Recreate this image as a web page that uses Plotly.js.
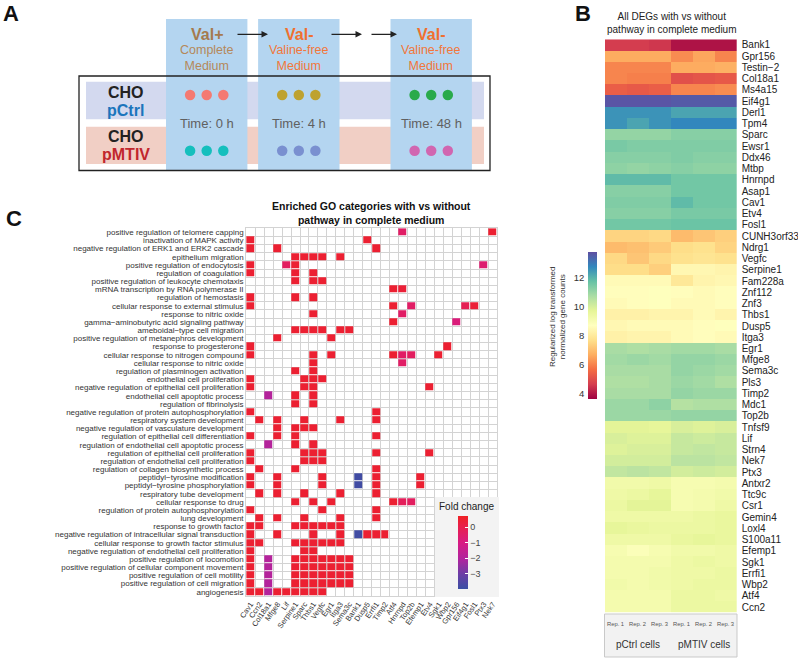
<!DOCTYPE html>
<html>
<head>
<meta charset="utf-8">
<script src="https://cdn.plot.ly/plotly-3.0.1.min.js"></script>
<style>html,body{margin:0;padding:0;background:#fff;}#chart{width:798px;height:658px;}</style>
</head>
<body>
<div id="chart"></div>
<script>
// ---------------- Panel A (experimental design) ----------------
const mediumShort = ['Val+', 'Val-', 'Val-'];
const mediumLines = ['Complete<br>Medium', 'Valine-free<br>Medium', 'Valine-free<br>Medium'];
const timeLabels = ['Time: 0 h', 'Time: 4 h', 'Time: 48 h'];
const cellLineNames = ['pCtrl', 'pMTIV'];
const pCtrlDotColors = ['#f47a72', '#bea22f', '#2aaa4b'];
const pMTIVDotColors = ['#15bfbd', '#7a90d0', '#d166b0'];
const replicateIds = ['Rep. 1', 'Rep. 2', 'Rep. 3'];

// ---------------- Panel B (DEG heatmap) ----------------
const degGenes = ['Bank1','Gpr156','Testin\u22122','Col18a1','Ms4a15','Eif4g1','Derl1','Tpm4','Sparc','Ewsr1','Ddx46','Mtbp','Hnrnpd','Asap1','Cav1','Etv4','Fosl1','CUNH3orf33','Ndrg1','Vegfc','Serpine1','Fam228a','Znf112','Znf3','Thbs1','Dusp5','Itga3','Egr1','Mfge8','Sema3c','Pls3','Timp2','Mdc1','Top2b','Tnfsf9','Lif','Strn4','Nek7','Ptx3','Antxr2','Ttc9c','Csr1','Gemin4','Loxl4','S100a11','Efemp1','Sgk1','Errfi1','Wbp2','Atf4','Ccn2'];
const sampleIds = ['pCtrl Rep. 1','pCtrl Rep. 2','pCtrl Rep. 3','pMTIV Rep. 1','pMTIV Rep. 2','pMTIV Rep. 3'];
const cellGroups = ['pCtrl cells', 'pMTIV cells'];
const pCtrlRep1 = [4.7,6.7,6.1,6.1,5.4,13.7,12.6,12.6,11.1,11.5,11.3,11.2,11.9,11.3,11.4,11.3,11.6,7.5,7.0,7.6,7.7,8.6,8.7,8.6,8.3,8.5,8.3,10.8,10.9,10.8,10.7,10.8,11.0,11.0,9.8,10.0,9.9,10.1,10.4,9.3,9.4,9.5,9.4,9.7,9.4,9.1,9.2,9.2,9.3,9.2,9.2];
const pCtrlRep2 = [4.7,6.7,6.1,6.0,5.3,13.7,12.6,12.3,11.1,11.4,11.3,11.1,11.9,11.3,11.4,11.3,11.6,7.5,7.1,7.2,7.7,8.6,8.7,8.7,8.3,8.6,8.4,10.7,11.0,10.8,10.7,10.8,11.0,11.0,9.8,9.9,10.0,10.1,10.5,9.3,9.5,9.8,9.4,9.6,9.4,8.9,9.2,9.2,9.2,9.2,9.2];
const pCtrlRep3 = [4.6,6.7,6.1,6.0,5.4,13.7,12.6,12.6,11.1,11.4,11.3,11.2,11.9,11.3,11.4,11.3,11.6,7.6,7.3,7.6,7.4,8.6,8.8,8.8,8.4,8.6,8.4,10.8,10.9,10.8,10.8,10.8,11.2,11.0,9.7,9.9,10.0,10.1,10.4,9.4,9.7,9.8,9.4,9.5,9.4,9.1,9.2,9.3,9.3,9.2,9.2];
const pMTIVRep1 = [4.0,6.2,6.7,5.1,6.1,13.6,12.3,12.8,11.3,11.4,11.4,11.3,11.6,11.6,11.9,11.5,11.7,7.0,7.7,7.8,8.5,8.0,8.7,8.6,8.4,8.6,8.6,10.9,11.1,11.1,11.0,11.1,10.6,11.1,10.0,10.3,10.3,10.5,10.1,9.1,9.1,9.1,9.4,9.5,9.6,9.3,9.4,9.4,9.4,9.5,9.5];
const pMTIVRep2 = [4.0,6.6,6.7,5.2,6.1,13.6,12.3,12.8,11.3,11.4,11.3,11.2,11.6,11.6,11.6,11.5,11.7,7.2,7.8,7.9,8.5,8.4,8.6,8.6,8.6,8.7,8.7,10.9,11.1,11.0,10.9,11.0,10.7,11.1,9.9,10.2,10.4,10.5,10.2,9.1,9.2,9.2,9.5,9.5,9.7,9.3,9.5,9.4,9.5,9.5,9.5];
const pMTIVRep3 = [4.0,6.1,6.8,5.3,6.2,13.6,12.3,12.8,11.3,11.4,11.3,11.2,11.6,11.6,11.6,11.5,11.7,7.4,7.5,7.8,8.4,8.5,8.7,8.7,8.4,8.8,8.6,10.8,11.0,10.9,10.7,11.0,10.7,11.1,10.0,10.3,10.3,10.4,10.1,9.2,9.3,9.4,9.6,9.6,9.6,9.4,9.4,9.5,9.5,9.4,9.5];
const countTicks = [4, 6, 8, 10, 12];

// ---------------- Panel C (GO enrichment) ----------------
const goTerms = ['positive regulation of telomere capping','inactivation of MAPK activity','negative regulation of ERK1 and ERK2 cascade','epithelium migration','positive regulation of endocytosis','regulation of coagulation','positive regulation of leukocyte chemotaxis','mRNA transcription by RNA polymerase II','regulation of hemostasis','cellular response to external stimulus','response to nitric oxide','gamma\u2212aminobutyric acid signaling pathway','ameboidal\u2212type cell migration','positive regulation of metanephros development','response to progesterone','cellular response to nitrogen compound','cellular response to nitric oxide','regulation of plasminogen activation','endothelial cell proliferation','negative regulation of epithelial cell proliferation','endothelial cell apoptotic process','regulation of fibrinolysis','negative regulation of protein autophosphorylation','respiratory system development','negative regulation of vasculature development','regulation of epithelial cell differentiation','regulation of endothelial cell apoptotic process','regulation of epithelial cell proliferation','regulation of endothelial cell proliferation','regulation of collagen biosynthetic process','peptidyl\u2212tyrosine modification','peptidyl\u2212tyrosine phosphorylation','respiratory tube development','cellular response to drug','regulation of protein autophosphorylation','lung development','response to growth factor','negative regulation of intracellular signal transduction','cellular response to growth factor stimulus','negative regulation of endothelial cell proliferation','positive regulation of locomotion','positive regulation of cellular component movement','positive regulation of cell motility','positive regulation of cell migration','angiogenesis'];
const goGenes = ['Cav1','Ccn2','Col18a1','Mfge8','Lif','Serpine1','Sparc','Thbs1','Vegfc','Egr1','Itga3','Sema3c','Bank1','Dusp5','Errfi1','Timp2','Atf4','Hnrnpd','Top2b','Efemp1','Etv4','Sgk1','Wbp2','Gpr156','Eif4g1','Fosl1','Ptx3','Nek7'];
// [gene, fold change] for every enriched gene of each GO term (same order as goTerms)
const goHits = [
  [['Hnrnpd',-0.4],['Nek7',0.5]],
  [['Cav1',0.5],['Dusp5',0.5]],
  [['Cav1',0.5],['Mfge8',0.5],['Errfi1',0.5]],
  [['Serpine1',0.5],['Sparc',0.5],['Thbs1',0.5],['Vegfc',0.5],['Itga3',0.5]],
  [['Cav1',0.5],['Lif',-0.3],['Serpine1',0.5],['Ptx3',-0.6]],
  [['Cav1',0.5],['Serpine1',0.5],['Thbs1',0.5]],
  [['Serpine1',0.5],['Thbs1',0.5],['Vegfc',0.5]],
  [['Atf4',0.5],['Hnrnpd',0.4]],
  [['Cav1',0.5],['Serpine1',0.5],['Thbs1',0.5]],
  [['Cav1',0.5],['Atf4',0.5],['Top2b',-0.4],['Eif4g1',-0.1],['Fosl1',0.4]],
  [['Thbs1',0.5],['Hnrnpd',-0.4]],
  [['Atf4',0.5],['Gpr156',-0.8]],
  [['Serpine1',0.5],['Sparc',0.5],['Thbs1',0.5],['Vegfc',0.5],['Itga3',0.5],['Sema3c',0.5]],
  [['Mfge8',0.5],['Egr1',0.5]],
  [['Cav1',0.5],['Wbp2',0.5]],
  [['Cav1',0.5],['Thbs1',0.5],['Egr1',0.5],['Atf4',0.5],['Hnrnpd',-0.4],['Top2b',-0.3],['Sgk1',0.5]],
  [['Thbs1',0.5],['Hnrnpd',-0.4]],
  [['Serpine1',0.5],['Thbs1',0.5]],
  [['Cav1',0.5],['Sparc',0.5],['Thbs1',0.5],['Vegfc',0.5]],
  [['Cav1',0.5],['Sparc',0.5],['Thbs1',0.5],['Etv4',0.5]],
  [['Col18a1',-1.9],['Serpine1',0.5],['Thbs1',0.5]],
  [['Serpine1',0.5],['Thbs1',0.5]],
  [['Cav1',0.5],['Errfi1',0.5]],
  [['Ccn2',0.5],['Mfge8',0.5],['Sparc',0.5],['Itga3',0.5],['Errfi1',0.5]],
  [['Mfge8',0.5],['Serpine1',0.5],['Sparc',0.5],['Thbs1',0.5]],
  [['Cav1',0.5],['Mfge8',0.5],['Serpine1',0.5],['Errfi1',0.5]],
  [['Col18a1',-1.9],['Serpine1',0.5],['Thbs1',0.5]],
  [['Cav1',0.5],['Sparc',0.5],['Thbs1',0.5],['Vegfc',0.5],['Errfi1',0.5],['Etv4',0.5]],
  [['Cav1',0.5],['Sparc',0.5],['Thbs1',0.5],['Vegfc',0.5]],
  [['Ccn2',0.5],['Serpine1',0.5],['Errfi1',0.5]],
  [['Cav1',0.5],['Mfge8',0.5],['Vegfc',0.5],['Bank1',-3.8],['Errfi1',0.5],['Efemp1',0.5]],
  [['Cav1',0.5],['Mfge8',0.5],['Vegfc',0.5],['Bank1',-3.8],['Errfi1',0.5],['Efemp1',0.5]],
  [['Ccn2',0.5],['Mfge8',0.5],['Sparc',0.5],['Itga3',0.5],['Errfi1',0.5]],
  [['Serpine1',0.5],['Thbs1',0.5],['Egr1',0.5],['Atf4',0.5],['Hnrnpd',-0.2],['Top2b',-0.3]],
  [['Cav1',0.5],['Vegfc',0.5],['Errfi1',0.5]],
  [['Ccn2',0.5],['Mfge8',0.5],['Sparc',0.5],['Itga3',0.5],['Errfi1',0.5]],
  [['Cav1',0.5],['Ccn2',0.5],['Serpine1',0.5],['Sparc',0.5],['Thbs1',0.5],['Vegfc',0.5],['Egr1',0.5],['Itga3',0.5]],
  [['Cav1',0.5],['Mfge8',0.5],['Thbs1',0.5],['Itga3',0.5],['Bank1',-3.8],['Dusp5',0.5],['Errfi1',0.5],['Timp2',0.5]],
  [['Cav1',0.5],['Ccn2',0.5],['Serpine1',0.5],['Sparc',0.5],['Thbs1',0.5],['Vegfc',0.5],['Egr1',0.5],['Itga3',0.5]],
  [['Cav1',0.5],['Sparc',0.5],['Thbs1',0.5]],
  [['Cav1',0.5],['Col18a1',-1.9],['Serpine1',0.5],['Sparc',0.5],['Thbs1',0.5],['Vegfc',0.5],['Egr1',0.5],['Itga3',0.5],['Sema3c',0.5]],
  [['Cav1',0.5],['Col18a1',-1.9],['Serpine1',0.5],['Sparc',0.5],['Thbs1',0.5],['Vegfc',0.5],['Egr1',0.5],['Itga3',0.5],['Sema3c',0.5]],
  [['Cav1',0.5],['Col18a1',-1.9],['Serpine1',0.5],['Sparc',0.5],['Thbs1',0.5],['Vegfc',0.5],['Egr1',0.5],['Itga3',0.5],['Sema3c',0.5]],
  [['Cav1',0.5],['Col18a1',-1.9],['Serpine1',0.5],['Sparc',0.5],['Thbs1',0.5],['Vegfc',0.5],['Egr1',0.5],['Itga3',0.5],['Sema3c',0.5]],
  [['Cav1',0.5],['Ccn2',0.5],['Col18a1',-1.9],['Mfge8',0.5],['Lif',0.5],['Serpine1',0.5],['Sparc',0.5],['Thbs1',0.5],['Vegfc',0.5]]
];
const foldTicks = [0, -1, -2, -3];

// ---------------- helpers / layout constants ----------------
const W = 798, H = 658;
const FONT = 'Liberation Sans, Arial, Helvetica, sans-serif';
const fx = p => p / W;
const fy = p => 1 - p / H;

const colCenters = [206.7, 298.8, 431.2];
const colHalf = 40.7;
const rowDotY = [95, 150.7];
const dotStep = 16.6;

// ---------------- traces ----------------
const spectral = [[0,'#9e0142'],[0.1,'#d53e4f'],[0.2,'#f46d43'],[0.3,'#fdae61'],[0.4,'#fee08b'],[0.5,'#ffffbf'],[0.6,'#e6f598'],[0.7,'#abdda4'],[0.8,'#66c2a5'],[0.9,'#3288bd'],[1,'#5e4fa2']];
const foldScale = [[0,'#3a4fa3'],[0.2,'#6a3ea6'],[0.41,'#b0249e'],[0.63,'#d71b84'],[0.84,'#e71f4f'],[1,'#ef2124']];

const degZ = degGenes.map((g, i) => [pCtrlRep1[i], pCtrlRep2[i], pCtrlRep3[i], pMTIVRep1[i], pMTIVRep2[i], pMTIVRep3[i]]);
const goZ = goTerms.map((t, i) => goGenes.map(g => {
  const h = goHits[i].find(p => p[0] === g);
  return h ? h[1] : null;
}));

const traces = [];
// Panel C heatmap
traces.push({
  type: 'heatmap', x: goGenes, y: goTerms, z: goZ, xaxis: 'x', yaxis: 'y',
  xgap: 1, ygap: 1, zmin: -3.94, zmax: 0.75, colorscale: foldScale,
  hoverongaps: false,
  colorbar: {
    x: fx(457.7), xanchor: 'left', xpad: 0, y: fy(552), yanchor: 'middle', ypad: 0,
    len: 72.6, lenmode: 'pixels', thickness: 10, outlinewidth: 0,
    tickvals: foldTicks, ticks: 'inside', ticklen: 3, tickcolor: '#ffffff',
    tickfont: {size: 9, color: '#444', family: FONT}
  }
});
// Panel B heatmap
traces.push({
  type: 'heatmap', x: sampleIds, y: degGenes, z: degZ, xaxis: 'x2', yaxis: 'y2',
  zmin: 3.7, zmax: 13.8, colorscale: spectral,
  colorbar: {
    x: fx(588.3), xanchor: 'left', xpad: 0, y: fy(325), yanchor: 'middle', ypad: 0,
    len: 146.6, lenmode: 'pixels', thickness: 9.4, outlinewidth: 0,
    showticklabels: false, ticks: ''
  }
});
// Panel A replicate dots
const dotX = [], dotY = [], dotC = [];
[pCtrlDotColors, pMTIVDotColors].forEach((cols, r) => {
  cols.forEach((c, k) => {
    replicateIds.forEach((rep, j) => {
      dotX.push(colCenters[k] + (j - 1) * dotStep);
      dotY.push(rowDotY[r]);
      dotC.push(c);
    });
  });
});
traces.push({
  type: 'scatter', mode: 'markers', x: dotX, y: dotY, xaxis: 'x3', yaxis: 'y3',
  marker: {size: 10.5, color: dotC, line: {width: 0}}, hoverinfo: 'skip'
});
// axis carrier for panel B colorbar labels
traces.push({type: 'scatter', x: [], y: [], xaxis: 'x4', yaxis: 'y4', hoverinfo: 'skip'});

// ---------------- shapes ----------------
const shapes = [];
const P = (o) => Object.assign({xref: 'x3', yref: 'y3'}, o);
shapes.push(P({type: 'rect', x0: 86, x1: 484, y0: 81.7, y1: 119.3, fillcolor: '#d3d9ef', line: {width: 0}, layer: 'below'}));
shapes.push(P({type: 'rect', x0: 86, x1: 484, y0: 126.7, y1: 164, fillcolor: '#f1cfc5', line: {width: 0}, layer: 'below'}));
colCenters.forEach(c => {
  shapes.push(P({type: 'rect', x0: c - colHalf, x1: c + colHalf, y0: 19, y1: 170.5, fillcolor: '#b4d5f0', line: {width: 0}, layer: 'below'}));
});
shapes.push(P({type: 'rect', x0: 79, x1: 490, y0: 76, y1: 170.5, line: {color: '#222', width: 1.3}, fillcolor: 'rgba(0,0,0,0)', layer: 'above'}));
// Panel B sample annotation box
shapes.push(P({type: 'rect', x0: 604.5, x1: 737, y0: 614, y1: 657, fillcolor: '#f2f2f2', line: {color: '#c9c9c9', width: 1}, layer: 'below'}));
sampleIds.forEach((s, i) => {
  shapes.push({type: 'rect', xref: 'x2', yref: 'y3', x0: i - 0.45, x1: i + 0.45, y0: 619.5, y1: 629, fillcolor: '#dedede', line: {width: 0}, layer: 'below'});
});
shapes.push({type: 'line', xref: 'x2', yref: 'y3', x0: 2.5, x1: 2.5, y0: 614, y1: 657, line: {color: '#c9c9c9', width: 1}, layer: 'below'});
// Panel C legend box
shapes.push(P({type: 'rect', x0: 435, x1: 499, y0: 497, y1: 597, fillcolor: '#f3f3f3', line: {width: 0}, layer: 'above'}));

// ---------------- annotations ----------------
const ann = [];
const A = (o) => Object.assign({xref: 'x3', yref: 'y3', showarrow: false, xanchor: 'center', yanchor: 'middle'}, o);
ann.push(A({x: 11, y: 13, text: '<b>A</b>', font: {size: 22, color: '#111', family: FONT}}));
ann.push(A({x: 583, y: 13, text: '<b>B</b>', font: {size: 22, color: '#111', family: FONT}}));
ann.push(A({x: 13.5, y: 218, text: '<b>C</b>', font: {size: 22, color: '#111', family: FONT}}));
const shortColors = ['#a57a4e', '#f0702f', '#f0702f'];
const longColors = ['#b5885a', '#f2773a', '#f2773a'];
colCenters.forEach((c, k) => {
  ann.push(A({x: c, y: 34.3, text: '<b>' + mediumShort[k] + '</b>', font: {size: 16, color: shortColors[k], family: FONT}}));
  ann.push(A({x: c, y: 57.5, text: mediumLines[k], font: {size: 12.5, color: longColors[k], family: FONT}}));
  ann.push(A({x: c, y: 123.3, text: timeLabels[k], font: {size: 13, color: '#606060', family: FONT}}));
});
[[236, 268], [330, 362], [370, 397]].forEach(a => {
  ann.push({xref: 'x3', yref: 'y3', axref: 'x3', ayref: 'y3', x: a[1], y: 34.3, ax: a[0], ay: 34.3, text: '', showarrow: true, arrowhead: 2, arrowsize: 1, arrowwidth: 1.3, arrowcolor: '#222'});
});
ann.push(A({x: 125.5, y: 92.2, text: '<b>CHO</b>', font: {size: 16, color: '#222', family: FONT}}));
ann.push(A({x: 125.5, y: 110, text: '<b>' + cellLineNames[0] + '</b>', font: {size: 16, color: '#1b75bc', family: FONT}}));
ann.push(A({x: 125.5, y: 136.2, text: '<b>CHO</b>', font: {size: 16, color: '#222', family: FONT}}));
ann.push(A({x: 125.5, y: 154.2, text: '<b>' + cellLineNames[1] + '</b>', font: {size: 16, color: '#c1272d', family: FONT}}));
// Panel B
ann.push(A({x: 671.7, y: 22.6, text: 'All DEGs with vs without<br>pathway in complete medium', font: {size: 10, color: '#222', family: FONT}}));
sampleIds.forEach((s, i) => {
  ann.push({xref: 'x2', yref: 'y3', x: i, y: 624.3, text: replicateIds[i % 3], showarrow: false, font: {size: 5.8, color: '#555', family: FONT}});
});
cellGroups.forEach((g, i) => {
  ann.push({xref: 'x2', yref: 'y3', x: 1 + 3 * i, y: 644, text: g, showarrow: false, font: {size: 10, color: '#333', family: FONT}});
});
ann.push(A({x: 557, y: 317, text: 'Regularized log transformed<br>normalized gene counts', textangle: -90, font: {size: 8, color: '#333', family: FONT}}));
// Panel C
ann.push(A({x: 371.7, y: 213, text: '<b>Enriched GO categories with vs without<br>pathway in complete medium</b>', font: {size: 10.5, color: '#111', family: FONT}}));
ann.push(A({x: 466, y: 506, text: 'Fold change', font: {size: 10, color: '#222', family: FONT}}));

// ---------------- layout ----------------
const layout = {
  width: W, height: H, margin: {l: 0, r: 0, t: 0, b: 0, pad: 0},
  paper_bgcolor: '#ffffff', plot_bgcolor: 'rgba(0,0,0,0)',
  font: {family: FONT, color: '#222'}, showlegend: false,
  xaxis: {domain: [fx(246.2), fx(497.3)], anchor: 'y', type: 'category', categoryorder: 'array', categoryarray: goGenes,
    tickmode: 'array', tickvals: goGenes, ticktext: goGenes,
    tickson: 'boundaries', showgrid: true, gridcolor: '#d3d3d3', gridwidth: 1, showline: true, mirror: true, linecolor: '#d3d3d3', linewidth: 1,
    ticks: '', tickangle: -55, tickfont: {size: 7.5, color: '#333', family: FONT}, zeroline: false, fixedrange: true},
  yaxis: {domain: [fy(595.9), fy(228.2)], anchor: 'x', type: 'category', categoryorder: 'array', categoryarray: goTerms, autorange: 'reversed',
    tickmode: 'array', tickvals: goTerms, ticktext: goTerms,
    tickson: 'boundaries', showgrid: true, gridcolor: '#d3d3d3', gridwidth: 1, showline: true, mirror: true, linecolor: '#d3d3d3', linewidth: 1,
    ticks: '', tickfont: {size: 8, color: '#333', family: FONT}, zeroline: false, fixedrange: true},
  xaxis2: {domain: [fx(605), fx(736.7)], anchor: 'y2', type: 'category', showticklabels: false, ticks: '', showgrid: false, zeroline: false, showline: false, fixedrange: true},
  yaxis2: {domain: [fy(612.7), fy(39.3)], anchor: 'x2', side: 'right', type: 'category', autorange: 'reversed',
    tickmode: 'array', tickvals: degGenes, ticktext: degGenes,
    ticks: '', showgrid: false, zeroline: false, showline: false,
    tickfont: {size: 10, color: '#222', family: FONT}, ticklabelstandoff: 4, fixedrange: true},
  xaxis3: {domain: [0, 1], anchor: 'y3', range: [0, W], autorange: false, visible: false, fixedrange: true},
  yaxis3: {domain: [0, 1], anchor: 'x3', range: [H, 0], autorange: false, visible: false, fixedrange: true},
  xaxis4: {domain: [fx(588.3), fx(597.7)], anchor: 'y4', range: [0, 1], visible: false, fixedrange: true},
  yaxis4: {domain: [fy(398.3), fy(251.7)], anchor: 'x4', side: 'left', range: [3.7, 13.8], autorange: false, tickmode: 'array', tickvals: countTicks, ticks: '',
    showgrid: false, zeroline: false, showline: false, tickfont: {size: 9.5, color: '#333', family: FONT}, ticklabelstandoff: 3, fixedrange: true},
  shapes: shapes,
  annotations: ann
};

Plotly.newPlot('chart', traces, layout, {staticPlot: true, displayModeBar: false});
</script>
</body>
</html>
